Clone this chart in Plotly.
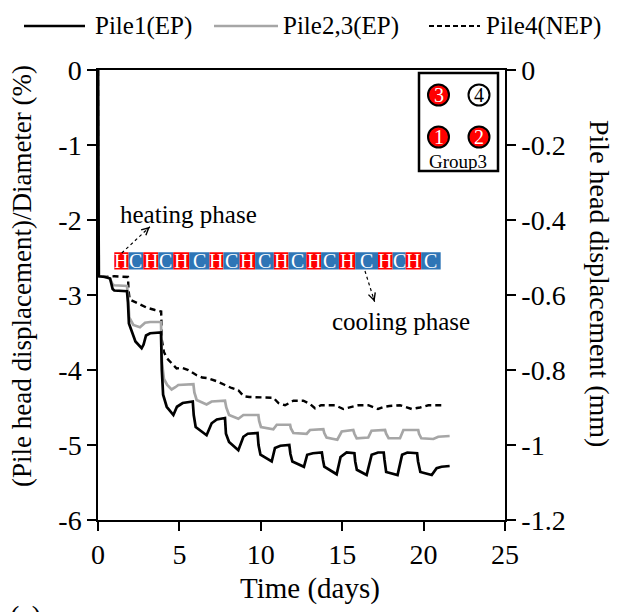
import plotly.graph_objects as go

# ---------------- data ----------------
series_names = ["Pile1(EP)", "Pile2,3(EP)", "Pile4(NEP)"]

time_p1 = [0, 0.05, 0.45, 0.74, 0.9, 1.0,
           1.78, 1.84, 1.9, 2.3, 2.68, 2.8, 2.95, 3.2,
           3.87, 3.92, 4.0, 4.22, 4.63, 4.85, 5.2,
           5.82, 5.88, 6.0, 6.67, 6.98, 7.3,
           7.8, 7.86, 8.05, 8.62, 8.93, 9.2,
           9.8, 9.86, 9.98, 10.67, 10.87, 11.2,
           11.75, 11.82, 11.94, 12.65, 12.85, 13.2,
           13.75, 13.82, 13.9, 14.66, 14.9, 15.27,
           15.75, 15.8, 15.9, 16.5, 16.81, 17.2,
           17.55, 17.6, 17.7, 18.4, 18.68, 19.0,
           19.6, 19.66, 19.8, 20.5, 20.8, 21.1, 21.6]
disp_p1 = [0, -2.75, -2.76, -2.78, -2.92, -2.94,
           -2.95, -3.1, -3.38, -3.62, -3.71, -3.66, -3.54, -3.51,
           -3.50, -4.0, -4.33, -4.49, -4.6, -4.49, -4.44,
           -4.42, -4.6, -4.76, -4.87, -4.71, -4.66,
           -4.64, -4.85, -4.96, -5.07, -4.89, -4.85,
           -4.84, -5.0, -5.13, -5.22, -5.04, -5.01,
           -5.0, -5.12, -5.22, -5.29, -5.13, -5.11,
           -5.1, -5.2, -5.29, -5.39, -5.16, -5.1,
           -5.11, -5.22, -5.33, -5.4, -5.13, -5.1,
           -5.1, -5.2, -5.36, -5.4, -5.13, -5.1,
           -5.11, -5.22, -5.36, -5.4, -5.31, -5.29, -5.28]

time_p23 = [0, 0.05, 0.45, 0.74, 0.9, 1.0,
            1.78, 1.84, 1.92, 2.17, 2.58, 2.75, 2.89, 3.2,
            3.87, 3.93, 4.05, 4.25, 4.52, 4.75, 4.93,
            5.86, 5.92, 6.06, 6.67, 6.98,
            7.8, 7.88, 8.05, 8.62, 8.93,
            9.85, 9.9, 10.01, 10.77, 10.98,
            11.8, 11.85, 12.0, 12.82, 13.02,
            13.84, 13.9, 14.04, 14.7, 14.97,
            15.68, 15.75, 15.89, 16.6, 16.8,
            17.63, 17.7, 17.85, 18.55, 18.76,
            19.67, 19.72, 19.86, 20.6, 20.9, 21.6]
disp_p23 = [0, -2.75, -2.76, -2.78, -2.86, -2.87,
            -2.88, -3.0, -3.3, -3.4, -3.43, -3.4, -3.37, -3.36,
            -3.36, -3.9, -4.12, -4.2, -4.26, -4.23, -4.2,
            -4.19, -4.3, -4.4, -4.46, -4.42,
            -4.41, -4.5, -4.6, -4.65, -4.6,
            -4.6, -4.68, -4.76, -4.79, -4.73,
            -4.73, -4.78, -4.84, -4.85, -4.8,
            -4.79, -4.84, -4.9, -4.93, -4.82,
            -4.8, -4.85, -4.91, -4.9, -4.81,
            -4.8, -4.85, -4.91, -4.91, -4.8,
            -4.8, -4.85, -4.91, -4.92, -4.89, -4.88]

time_p4 = [0, 0.05, 0.45, 1.0, 1.84,
           1.88, 1.95, 2.5, 3.0, 3.5,
           3.88, 3.92, 4.05, 4.22, 4.5,
           4.83, 5.14, 5.55, 6.06, 6.4,
           6.77, 7.3, 7.8, 8.2, 8.62,
           8.95, 9.3, 9.75, 10.3, 10.77,
           11.08, 11.49, 12.0, 12.61, 13.0,
           13.33, 13.7, 14.1, 14.56, 15.07,
           15.5, 15.99, 16.6, 17.2, 17.6,
           17.9, 18.55, 19.27, 19.78, 20.29, 21.3]
disp_p4 = [0, -2.75, -2.76, -2.75, -2.76,
           -2.95, -3.06, -3.12, -3.17, -3.2,
           -3.22, -3.6, -3.76, -3.84, -3.9,
           -3.98, -3.97, -4.0, -4.07, -4.1,
           -4.11, -4.15, -4.2, -4.24, -4.27,
           -4.35, -4.36, -4.36, -4.36, -4.37,
           -4.44, -4.47, -4.41, -4.41, -4.45,
           -4.51, -4.47, -4.47, -4.47, -4.52,
           -4.5, -4.47, -4.47, -4.52, -4.49,
           -4.48, -4.47, -4.52, -4.5, -4.47, -4.47]

pile_diameter_mm = 20  # -6 % <-> -1.2 mm

x_ticks = [0, 5, 10, 15, 20, 25]
y_ticks = [0, -1, -2, -3, -4, -5, -6]
y_ticktext = ["0", "-1", "-2", "-3", "-4", "-5", "-6"]
y2_ticks = [0, -0.2, -0.4, -0.6, -0.8, -1.0, -1.2]
y2_ticktext = ["0", "-0.2", "-0.4", "-0.6", "-0.8", "-1", "-1.2"]

phase_labels = ["H", "C", "H", "C", "H", "C", "H", "C", "H", "C",
                "H", "C", "H", "C", "H", "C", "H", "C", "H", "C"]
phase_edges = [1.0, 1.88, 2.78, 3.7, 4.62, 5.6, 6.85, 7.7, 8.7, 9.65, 10.8,
               11.7, 12.8, 13.7, 14.8, 15.8, 17.2, 18.1, 18.9, 19.85, 21.05]
phase_band = (-2.43, -2.66)

group_name = "Group3"
group_piles = ["3", "4", "1", "2"]
group_heated = [True, False, True, True]

# ---------------- styling ----------------
FONT = "Liberation Serif"
RED = "#FF0000"
BLUE = "#2E75B6"
GREY = "#A6A6A6"

fig = go.Figure()

fig.add_trace(go.Scatter(x=time_p4, y=disp_p4, mode="lines", name=series_names[2],
                         line=dict(color="black", width=2.4, dash="6px,4px"), showlegend=False))
fig.add_trace(go.Scatter(x=time_p23, y=disp_p23, mode="lines", name=series_names[1],
                         line=dict(color=GREY, width=2.7), showlegend=False))
fig.add_trace(go.Scatter(x=time_p1, y=disp_p1, mode="lines", name=series_names[0],
                         line=dict(color="black", width=2.7), showlegend=False))
# same pile 1 series in mm on the right-hand axis (invisible, drives the secondary axis)
fig.add_trace(go.Scatter(x=time_p1, y=[v * pile_diameter_mm / 100 for v in disp_p1],
                         yaxis="y2", mode="lines", line=dict(width=0), opacity=0,
                         showlegend=False, hoverinfo="skip"))

axis_common = dict(showline=True, linecolor="black", linewidth=1.5, ticks="outside",
                   ticklen=9, tickwidth=1.5, tickcolor="black", showgrid=False,
                   zeroline=False, tickfont=dict(family=FONT, size=28, color="black"))

fig.update_layout(
    width=620, height=612, autosize=False,
    margin=dict(l=98, r=115, t=70, b=92),
    paper_bgcolor="white", plot_bgcolor="white",
    font=dict(family=FONT, color="black"),
    xaxis=dict(range=[0, 25], tickvals=x_ticks, mirror=True, **axis_common),
    yaxis=dict(range=[-6, 0], tickvals=y_ticks, ticktext=y_ticktext, **axis_common),
    yaxis2=dict(range=[-1.2, 0], tickvals=y2_ticks, ticktext=y2_ticktext,
                overlaying="y", side="right", **axis_common),
    showlegend=False,
)

shapes = []
annotations = []

# heating / cooling band
for i, lab in enumerate(phase_labels):
    x0, x1 = phase_edges[i], phase_edges[i + 1]
    shapes.append(dict(type="rect", xref="x", yref="y", x0=x0, x1=x1,
                       y0=phase_band[1], y1=phase_band[0],
                       fillcolor=RED if lab == "H" else BLUE, line=dict(width=0),
                       layer="above"))
    annotations.append(dict(xref="x", yref="y", x=(x0 + x1) / 2,
                            y=(phase_band[0] + phase_band[1]) / 2, text=lab,
                            showarrow=False, font=dict(family=FONT, size=20, color="white"),
                            xanchor="center", yanchor="middle"))

# annotation arrows (dotted shaft + head)
def dotted_arrow(tx, ty, hx, hy, dx, dy):
    shapes.append(dict(type="line", xref="x", yref="y", x0=tx, y0=ty, x1=hx, y1=hy,
                       line=dict(color="black", width=1.2, dash="dot"), layer="above"))
    annotations.append(dict(xref="x", yref="y", x=hx, y=hy, ax=dx, ay=dy, text="",
                            showarrow=True, arrowhead=5, arrowsize=1.4, arrowwidth=1,
                            arrowcolor="black"))

dotted_arrow(1.46, -2.44, 3.19, -2.09, -5, 4.5)
dotted_arrow(16.4, -2.68, 16.99, -3.09, -2, -6)

annotations.append(dict(xref="x", yref="y", x=1.2, y=-1.93, text="heating phase",
                        showarrow=False, xanchor="left", yanchor="middle",
                        font=dict(family=FONT, size=25, color="black")))
annotations.append(dict(xref="x", yref="y", x=14.25, y=-3.35, text="cooling phase",
                        showarrow=False, xanchor="left", yanchor="middle",
                        font=dict(family=FONT, size=25, color="black")))

# pile group inset (paper coords; plot area is 407 x 450 px)
PW, PH = 407.0, 450.0
def px(xp): return (xp - 98) / PW
def py(yp): return (520 - yp) / PH

shapes.append(dict(type="rect", xref="paper", yref="paper", x0=px(419), x1=px(498),
                   y0=py(171), y1=py(73), line=dict(color="black", width=2.5),
                   fillcolor="white", layer="above"))
centres = [(438.5, 95), (479, 95), (438.5, 137), (479, 137)]
r = 10.5
for (cx, cy), lab, hot in zip(centres, group_piles, group_heated):
    shapes.append(dict(type="circle", xref="paper", yref="paper",
                       x0=px(cx - r), x1=px(cx + r), y0=py(cy + r), y1=py(cy - r),
                       fillcolor=RED if hot else "white",
                       line=dict(color="black", width=2), layer="above"))
    annotations.append(dict(xref="paper", yref="paper", x=px(cx), y=py(cy), text=lab,
                            showarrow=False, xanchor="center", yanchor="middle",
                            font=dict(family=FONT, size=20,
                                      color="white" if hot else "black")))
annotations.append(dict(xref="paper", yref="paper", x=px(458), y=py(161), text=group_name,
                        showarrow=False, xanchor="center", yanchor="middle",
                        font=dict(family=FONT, size=19, color="black")))

# legend (drawn manually above the plot)
leg_y = py(26)
legend_items = [
    (series_names[0], 24, 85, 93, dict(color="black", width=2.7)),
    (series_names[1], 214, 278, 281, dict(color=GREY, width=2.7)),
    (series_names[2], 429, 480, 484, dict(color="black", width=2.2, dash="5px,3px")),
]
for name, l0, l1, tx, ln in legend_items:
    shapes.append(dict(type="line", xref="paper", yref="paper", x0=px(l0), x1=px(l1),
                       y0=leg_y, y1=leg_y, line=ln))
    annotations.append(dict(xref="paper", yref="paper", x=px(tx), y=leg_y, text=name,
                            showarrow=False, xanchor="left", yanchor="middle",
                            font=dict(family=FONT, size=25, color="black")))

# axis titles
annotations.append(dict(xref="paper", yref="paper", x=px(22), y=py(276),
                        text="(Pile head displacement)/Diameter (%)", textangle=-90,
                        showarrow=False, xanchor="center", yanchor="middle",
                        font=dict(family=FONT, size=27, color="black")))
annotations.append(dict(xref="paper", yref="paper", x=px(600), y=py(283),
                        text="Pile head displacement (mm)", textangle=90,
                        showarrow=False, xanchor="center", yanchor="middle",
                        font=dict(family=FONT, size=28, color="black")))
annotations.append(dict(xref="paper", yref="paper", x=px(310), y=py(588),
                        text="Time (days)", showarrow=False, xanchor="center",
                        yanchor="middle", font=dict(family=FONT, size=29, color="black")))
annotations.append(dict(xref="paper", yref="paper", x=px(8), y=py(598),
                        text="(c)", showarrow=False, xanchor="left",
                        yanchor="top", font=dict(family=FONT, size=28, color="black")))

fig.update_layout(shapes=shapes, annotations=annotations)
fig.write_html("out.html")
